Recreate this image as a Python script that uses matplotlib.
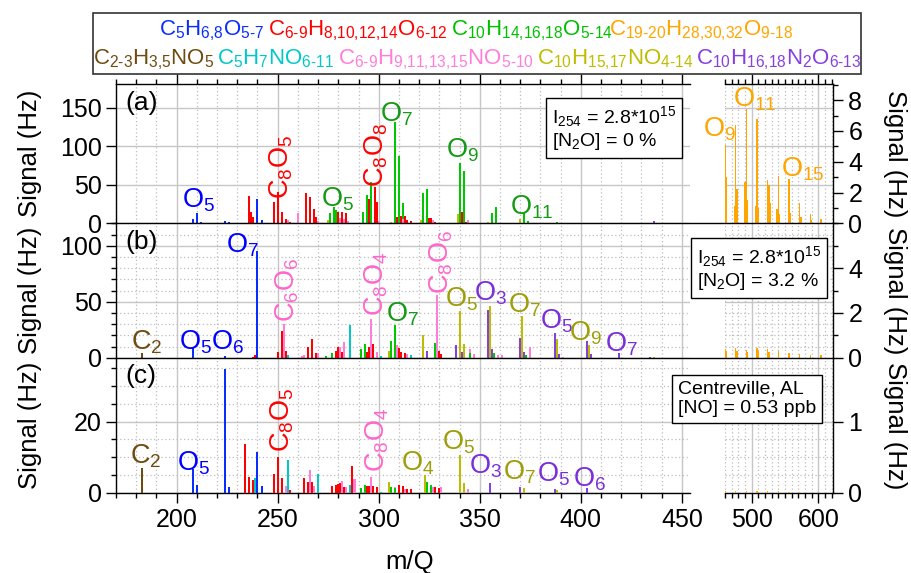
import matplotlib
matplotlib.use("Agg")
import matplotlib.pyplot as plt
import matplotlib.ticker as ticker
from matplotlib.patches import Rectangle
from matplotlib.lines import Line2D

plt.rcParams["font.family"] = ["Liberation Sans", "DejaVu Sans"]
plt.rcParams["mathtext.fontset"] = "custom"
plt.rcParams["mathtext.rm"] = "Liberation Sans"
plt.rcParams["mathtext.it"] = "Liberation Sans:italic"
plt.rcParams["mathtext.bf"] = "Liberation Sans:bold"
plt.rcParams["mathtext.default"] = "regular"

# ---- spectra (m/Q, signal in Hz) ----
# panel (a)
a_blue_mz = [208, 210, 212, 224, 226, 240, 242]
a_blue_h = [5, 13, 1.5, 3.5, 2, 31, 4]
a_red_mz = [236, 237, 238, 248, 250, 252, 254, 256, 264, 266, 268, 269, 280, 282, 284,
            295, 298, 299, 309, 311, 313, 314, 316, 325, 326, 328, 341, 343]
a_red_h = [35, 15, 8, 28, 41, 15, 6, 2, 40, 34, 19, 8, 15, 15, 13,
           32, 47, 28, 8, 9, 10, 4, 3, 7, 7, 2, 15, 2]
a_green_mz = [276, 278, 279, 292, 294, 296, 308, 310, 312, 322, 324, 340, 342, 344, 356, 358, 372, 374, 388]
a_green_h = [13, 21, 17, 15, 37, 54, 131, 87, 26, 39, 45, 79, 68, 3, 14, 21, 13, 3, 1.5]
a_pink_mz = [255, 260, 270, 281, 283, 285, 300, 312, 327, 344]
a_pink_h = [4, 13, 3, 7, 6, 3, 3, 6, 4, 4]
a_olive_mz = [275, 306, 321, 339, 354, 370, 386]
a_olive_h = [4, 2, 4, 12, 2, 5, 1]
a_purple_mz = [403, 436]
a_purple_h = [1, 2.5]
a_cyan_mz = [286]
a_cyan_h = [1]
a_dimer_mz = [460, 462, 474, 476, 478, 490, 492, 494, 506, 508, 510, 524, 526, 528,
              538, 540, 542, 556, 558, 572, 574, 588, 590, 604]
a_dimer_h = [5.1, 3.0, 1.1, 6.4, 2.2, 2.7, 7.4, 1.5, 1.1, 6.8, 1.0, 2.8, 2.5, 1.3,
             0.9, 3.1, 0.6, 2.9, 0.7, 1.3, 0.4, 0.6, 0.2, 0.3]

# panel (b)
b_brown_mz = [183]
b_brown_h = [4]
b_blue_mz = [208, 224, 240]
b_blue_h = [8.3, 1.5, 95.6]
b_red_mz = [238, 239, 250, 252, 254, 265, 267, 269, 279, 280, 282, 294, 295, 297, 310, 311, 313, 330, 331]
b_red_h = [1, 2, 5, 24, 6, 10, 17, 4, 6, 10, 5, 5, 10, 12, 8.5, 5, 4, 6, 3]
b_pink_mz = [253, 262, 263, 270, 281, 283, 296, 299, 309, 314, 329, 345, 347, 359, 361, 375, 391]
b_pink_h = [30.5, 1.5, 2, 4.5, 10, 14, 35, 5, 11, 3, 55.6, 7.6, 3, 2, 2, 10, 1]
b_cyan_mz = [255, 286, 301, 316]
b_cyan_h = [2, 29, 1.5, 2.5]
b_green_mz = [274, 277, 291, 293, 306, 308, 328, 345, 357, 373, 405]
b_green_h = [1.5, 4.5, 8, 12, 14.5, 29, 13, 4, 4, 2, 2]
b_olive_mz = [305, 322, 340, 342, 355, 371, 388, 404, 436]
b_olive_h = [6, 20.7, 41.4, 12.6, 46, 37, 16.7, 11, 1]
b_purple_mz = [324, 338, 341, 354, 356, 370, 372, 387, 389, 403, 405, 419, 434]
b_purple_h = [6, 11.3, 5.4, 42.3, 7.6, 18, 5, 22.5, 3, 14.6, 3, 4, 1]
b_dimer_mz = [460, 462, 476, 478, 492, 494, 508, 510, 524, 526, 540, 556, 572, 588, 604]
b_dimer_h = [0.4, 0.3, 0.45, 0.3, 0.35, 0.25, 0.45, 0.3, 0.4, 0.25, 0.3, 0.2, 0.15, 0.1, 0.1]

# panel (c)
c_brown_mz = [183]
c_brown_h = [6.9]
c_blue_mz = [208, 210, 224, 226, 240, 242]
c_blue_h = [6.6, 2.2, 34.7, 1.7, 11.5, 1.9]
c_red_mz = [234, 236, 238, 248, 250, 252, 254, 256, 263, 265, 267, 277, 279, 280, 281, 283, 287,
            293, 294, 295, 297, 299, 310, 312, 314, 316, 328, 330]
c_red_h = [13.6, 4.5, 3.6, 5.3, 10.1, 4, 1, 0.8, 4.2, 3, 3, 2, 2.3, 2.5, 2.8, 1.5, 7.5,
           1.5, 1.8, 1.8, 1.8, 1.5, 2.3, 1.8, 1, 1, 1.5, 1.2]
c_pink_mz = [254, 266, 268, 282, 284, 288, 296, 308, 313, 327, 331, 344]
c_pink_h = [2, 6.4, 2, 3.3, 1.5, 3.8, 4.5, 1.5, 1, 1.5, 1.5, 1]
c_cyan_mz = [239, 255, 270, 286, 301]
c_cyan_h = [4.2, 9.2, 5.3, 2.2, 0.3]
c_green_mz = [291, 293, 306, 308, 324, 326, 342]
c_green_h = [1.2, 2.3, 1.7, 1.4, 3.1, 2.2, 1.8]
c_olive_mz = [305, 323, 340, 342, 355, 372, 388]
c_olive_h = [3.1, 5, 10.6, 2.6, 1.8, 1.2, 0.8]
c_purple_mz = [355, 370, 387, 403]
c_purple_h = [2.7, 1.7, 1, 1.4]
c_dimer_mz = [460, 476, 492, 508, 524, 540, 556, 572]
c_dimer_h = [0.02, 0.03, 0.02, 0.03, 0.02, 0.02, 0.01, 0.01]

# colours
col = {
    "blue": "#0A2DFF", "red": "#FF0000", "green": "#00C800", "orange": "#FFA500",
    "brown": "#6E4C10", "cyan": "#00C8C8", "pink": "#FF7FD8", "olive": "#BDBD00",
    "purple": "#8640E0",
}
lab = {
    "blue": "#0000FF", "red": "#FF0000", "green": "#169A16", "orange": "#FFA500",
    "brown": "#6E4C10", "cyan": "#00C0C0", "pink": "#FF66CC", "olive": "#9E9E0A",
    "purple": "#7A2FD8",
}

panels = [
    {"blue": (a_blue_mz, a_blue_h), "red": (a_red_mz, a_red_h), "green": (a_green_mz, a_green_h),
     "pink": (a_pink_mz, a_pink_h), "olive": (a_olive_mz, a_olive_h), "purple": (a_purple_mz, a_purple_h),
     "cyan": (a_cyan_mz, a_cyan_h)},
    {"brown": (b_brown_mz, b_brown_h), "blue": (b_blue_mz, b_blue_h), "red": (b_red_mz, b_red_h),
     "pink": (b_pink_mz, b_pink_h), "cyan": (b_cyan_mz, b_cyan_h), "green": (b_green_mz, b_green_h),
     "olive": (b_olive_mz, b_olive_h), "purple": (b_purple_mz, b_purple_h)},
    {"brown": (c_brown_mz, c_brown_h), "blue": (c_blue_mz, c_blue_h), "red": (c_red_mz, c_red_h),
     "pink": (c_pink_mz, c_pink_h), "cyan": (c_cyan_mz, c_cyan_h), "green": (c_green_mz, c_green_h),
     "olive": (c_olive_mz, c_olive_h), "purple": (c_purple_mz, c_purple_h)},
]
dimers = [(a_dimer_mz, a_dimer_h), (b_dimer_mz, b_dimer_h), (c_dimer_mz, c_dimer_h)]

# peak labels: (x, y, text, colour, rotated)
peak_labels = [
    [(202.5, 20, "O$_5$", "blue", False), (251.7, 32, "C$_8$O$_5$", "red", True),
     (271.6, 22, "O$_5$", "green", False), (298.9, 47, "C$_8$O$_8$", "red", True),
     (300.5, 132, "O$_7$", "green", False), (333.5, 85, "O$_9$", "green", False),
     (364.9, 10.8, "O$_{11}$", "green", False)],
    [(177.6, 7.7, "C$_2$", "brown", False), (201, 7.7, "O$_5$", "blue", False),
     (217, 7.7, "O$_6$", "blue", False), (224.3, 94, "O$_7$", "blue", False),
     (254.7, 32, "C$_6$O$_6$", "pink", True), (298.9, 37.3, "C$_8$O$_4$", "pink", True),
     (303.5, 32, "O$_7$", "green", False), (331, 57, "C$_8$O$_6$", "pink", True),
     (333.0, 46, "O$_5$", "olive", False), (347.2, 51, "O$_3$", "purple", False),
     (364, 40.8, "O$_7$", "olive", False), (379.7, 26, "O$_5$", "purple", False),
     (394.2, 15.7, "O$_9$", "olive", False), (411.9, 5.3, "O$_7$", "purple", False)],
    [(176.7, 8.3, "C$_2$", "brown", False), (200.1, 6.2, "O$_5$", "blue", False),
     (252.2, 11.5, "C$_8$O$_5$", "red", True), (299.3, 5.9, "C$_8$O$_4$", "pink", True),
     (311.2, 6.2, "O$_4$", "olive", False), (331.5, 12.2, "O$_5$", "olive", False),
     (344.7, 5.5, "O$_3$", "purple", False), (361.5, 3.6, "O$_7$", "olive", False),
     (378.4, 3.1, "O$_5$", "purple", False), (396.2, 1.7, "O$_6$", "purple", False)],
]
dimer_labels = [(427, 5.66, "O$_9$"), (472, 7.6, "O$_{11}$"), (544.5, 3.05, "O$_{15}$")]

info_boxes = [
    (552, 104, "I$_{254}$ = 2.8*10$^{15}$\n[N$_2$O] = 0 %"),
    (697, 244, "I$_{254}$ = 2.8*10$^{15}$\n[N$_2$O] = 3.2 %"),
    (678, 381, "Centreville, AL\n[NO] = 0.53 ppb"),
]

legend_row1 = [
    (159, r"C$_{\text{5}}$H$_{\text{6,8}}$O$_{\text{5-7}}$", "blue"),
    (268, r"C$_{\text{6-9}}$H$_{\text{8,10,12,14}}$O$_{\text{6-12}}$", "red"),
    (451, r"C$_{\text{10}}$H$_{\text{14,16,18}}$O$_{\text{5-14}}$", "green"),
    (609, r"C$_{\text{19-20}}$H$_{\text{28,30,32}}$O$_{\text{9-18}}$", "orange"),
]
legend_row2 = [
    (93, r"C$_{\text{2-3}}$H$_{\text{3,5}}$NO$_{\text{5}}$", "brown"),
    (217, r"C$_{\text{5}}$H$_{\text{7}}$NO$_{\text{6-11}}$", "cyan"),
    (338, r"C$_{\text{6-9}}$H$_{\text{9,11,13,15}}$NO$_{\text{5-10}}$", "pink"),
    (537, r"C$_{\text{10}}$H$_{\text{15,17}}$NO$_{\text{4-14}}$", "olive"),
    (696, r"C$_{\text{10}}$H$_{\text{16,18}}$N$_{\text{2}}$O$_{\text{6-13}}$", "purple"),
]

W, H = 911, 573
fig = plt.figure(figsize=(W / 100, H / 100), dpi=100)


def fx(x):
    return x / W


def fy(y):
    return 1 - y / H


rows = [(84, 223.3), (223.3, 357.7), (357.7, 492.7)]
ytop = [181, 120, 38]
ymaj = [50, 50, 20]
ymin = [None, 10, 5]
rticks = [[0, 2, 4, 6, 8], [0, 2, 4], [0, 1]]
rmin = [1, 1, None]
names = ["(a)", "(b)", "(c)"]
solid = "#c6c6c6"
dotted = "#bdbdbd"

for r in range(3):
    top, bot = rows[r]
    axL = fig.add_axes([fx(116), fy(bot), fx(690) - fx(116), (bot - top) / H])
    axR = fig.add_axes([fx(725), fy(bot), fx(833) - fx(725), (bot - top) / H])

    axL.set_xlim(170, 454)
    axL.set_ylim(0, ytop[r])
    axR.set_xlim(460, 622)
    axR.set_ylim(0, ytop[r] / 20)

    for ax in (axL, axR):
        ax.set_axisbelow(True)
        ax.patch.set_alpha(0)
        ax.tick_params(which="both", direction="out", width=1, labelsize=18, color="k")
        ax.tick_params(which="major", length=7)
        ax.tick_params(which="minor", length=3.5)
        for s in ax.spines.values():
            s.set_linewidth(1)

    # left axes
    axL.xaxis.set_major_locator(ticker.MultipleLocator(50))
    axL.xaxis.set_minor_locator(ticker.MultipleLocator(10))
    axL.yaxis.set_major_locator(ticker.MultipleLocator(ymaj[r]))
    if ymin[r]:
        axL.yaxis.set_minor_locator(ticker.MultipleLocator(ymin[r]))
    axL.grid(which="major", color=solid, lw=1, ls="-")
    axL.grid(which="minor", color=dotted, lw=0.9, ls=(0, (1, 2)))
    axL.spines["right"].set_visible(False)
    axL.tick_params(axis="y", pad=3)

    # right axes
    axR.xaxis.set_major_locator(ticker.FixedLocator([500, 600]))
    axR.xaxis.set_minor_locator(ticker.MultipleLocator(10))
    axR.yaxis.tick_right()
    axR.yaxis.set_major_locator(ticker.FixedLocator(rticks[r]))
    if rmin[r]:
        axR.yaxis.set_minor_locator(ticker.MultipleLocator(rmin[r]))
    axR.grid(which="major", axis="x", color=solid, lw=1, ls="-")
    axR.grid(which="minor", axis="x", color=dotted, lw=0.9, ls=(0, (1, 2)))
    for v in axL.get_yticks():
        if 0 < v < ytop[r]:
            axR.axhline(v / 20, color=solid, lw=1, zorder=0)
    if ymin[r]:
        v = ymin[r]
        while v < ytop[r]:
            if v % ymaj[r] != 0:
                axR.axhline(v / 20, color=dotted, lw=0.9, ls=(0, (1, 2)), zorder=0)
            v += ymin[r]
    axR.spines["left"].set_visible(False)
    axR.tick_params(axis="y", which="both", left=False, right=True, pad=4)

    if r == 0:
        for ax in (axL, axR):
            ax.tick_params(axis="x", which="both", top=True, bottom=False,
                           labeltop=False, labelbottom=False)
            ax.spines["bottom"].set_visible(False)
    else:
        for ax in (axL, axR):
            ax.spines["top"].set_visible(False)
    if r == 1:
        for ax in (axL, axR):
            ax.tick_params(axis="x", which="both", top=False, bottom=False,
                           labeltop=False, labelbottom=False)
            ax.spines["bottom"].set_visible(False)
    if r == 2:
        for ax in (axL, axR):
            ax.tick_params(axis="x", which="both", top=False, bottom=True, labelbottom=True, pad=4)

    # bars
    for g, (mz, h) in panels[r].items():
        axL.bar(mz, h, width=1.0, color=col[g], linewidth=0, zorder=3)
    dmz, dh = dimers[r]
    axR.bar(dmz, dh, width=2.4, color=col["orange"], linewidth=0, zorder=3)

    # labels
    for x, y, s, c, rot in peak_labels[r]:
        if rot:
            axL.text(x, y, s, color=lab[c], fontsize=19.5, rotation=90,
                     ha="center", va="bottom", zorder=5)
        else:
            axL.text(x, y, s, color=lab[c], fontsize=19.5, ha="left", va="baseline", zorder=5)
    if r == 0:
        for x, y, s in dimer_labels:
            axR.text(x, y, s, color=lab["orange"], fontsize=19.5, ha="left", va="baseline",
                     zorder=5, clip_on=False)

    axL.text(0.016, 0.95, names[r], transform=axL.transAxes, fontsize=19,
             ha="left", va="top")

    # y labels
    mid = fy((top + bot) / 2)
    fig.text(fx(30), mid, "Signal (Hz)", rotation=90, ha="center", va="center", fontsize=18.5)
    fig.text(fx(895), mid, "Signal (Hz)", rotation=270, ha="center", va="center", fontsize=18.5)

# zero lines running through the gap for (a) and (b)
for yy in (223.3, 357.7):
    fig.add_artist(Line2D([fx(116), fx(833)], [fy(yy), fy(yy)], color="k", lw=1, zorder=6))

# info boxes
for x, y, s in info_boxes:
    fig.text(fx(x), fy(y), s, ha="left", va="top", fontsize=14, linespacing=1.15,
             bbox=dict(boxstyle="square,pad=0.3", fc="white", ec="black", lw=1), zorder=10)

fig.text(fx(410), fy(562), "m/Q", ha="center", va="center", fontsize=18.5)

# legend box
fig.add_artist(Rectangle((fx(93), fy(74)), (861 - 93) / W, 61.5 / H, transform=fig.transFigure,
                         fill=False, ec="#333333", lw=1.2))
for x, s, c in legend_row1:
    fig.text(fx(x), fy(35), s, color=col[c] if c != "green" else "#00C000",
             fontsize=16, ha="left", va="baseline")
for x, s, c in legend_row2:
    fig.text(fx(x), fy(64), s, color=col[c], fontsize=16, ha="left", va="baseline")

fig.savefig("out.png", dpi=100)
